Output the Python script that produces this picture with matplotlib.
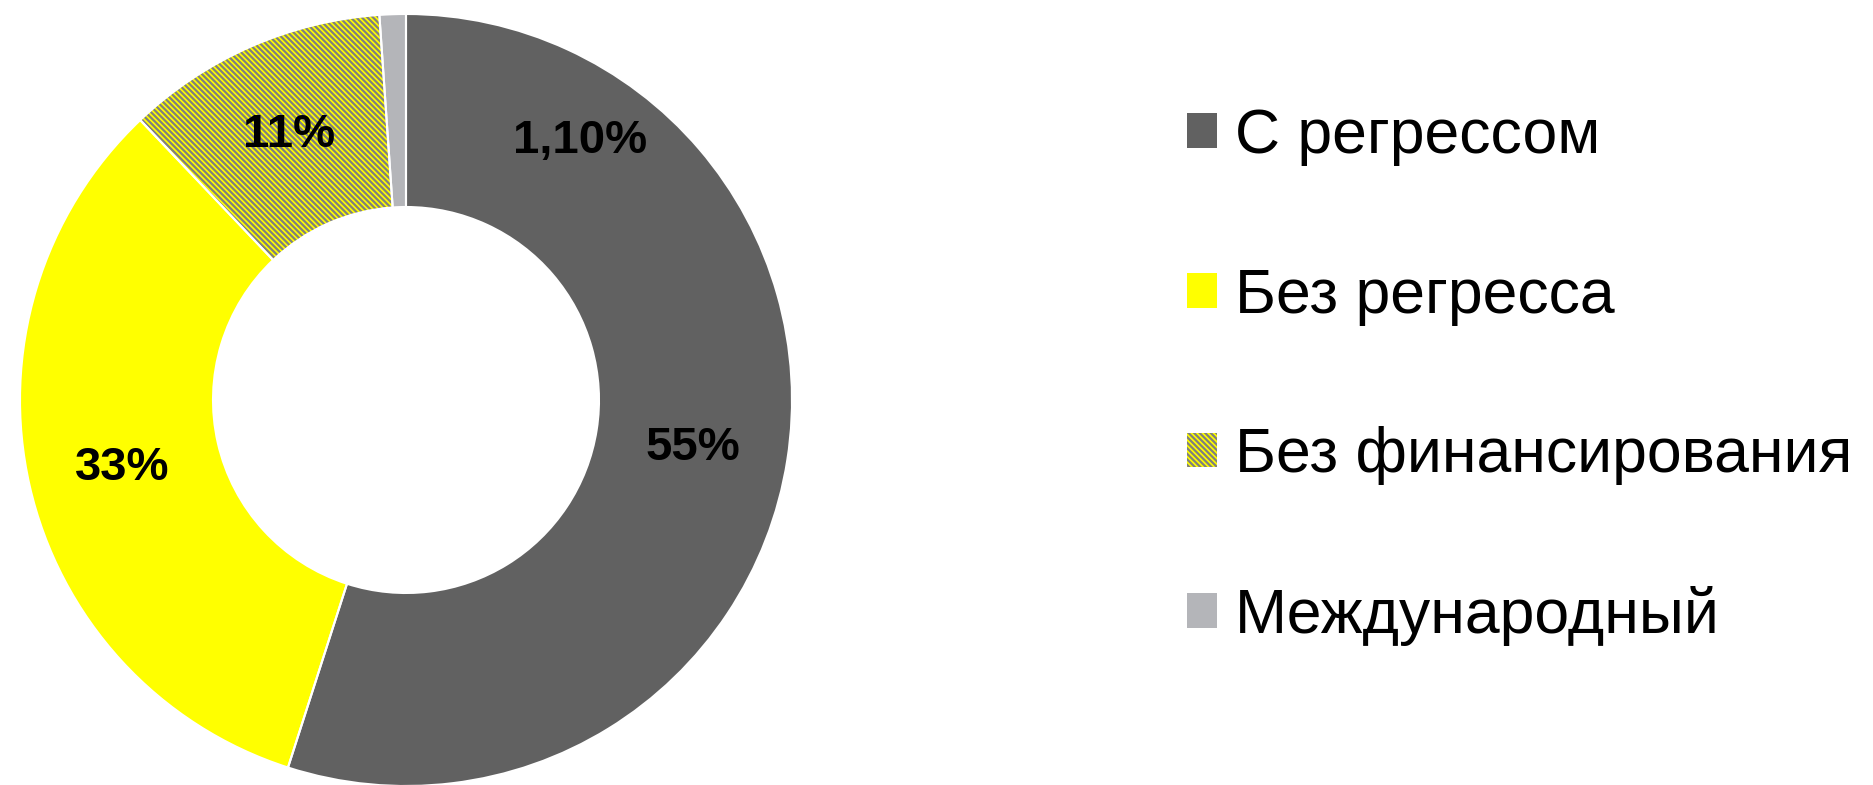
import matplotlib
matplotlib.use('Agg')
import matplotlib.pyplot as plt

# data
categories = ['С регрессом', 'Без регресса', 'Без финансирования', 'Международный']
shares = [55, 33, 11, 1.1]
labels = ['55%', '33%', '11%', '1,10%']
colors = ['#616161', '#ffff00', '#ffff00', '#b4b5b9']
# label spots (in pie radius units)
label_x = [0.744, -0.736, -0.303, 0.451]
label_y = [-0.124, -0.176, 0.687, 0.671]

plt.rcParams['font.family'] = ['Liberation Sans', 'DejaVu Sans']
plt.rcParams['hatch.linewidth'] = 1.6

W, H = 1874, 785
fig = plt.figure(figsize=(W / 100, H / 100), dpi=100)

# pie centre and radius in pixels
cx, cy, r = 406, 400, 386
half = 400
ax = fig.add_axes([(cx - half) / W, (H - cy - half) / H, 2 * half / W, 2 * half / H])
lim = half / r

wedges, _ = ax.pie(shares, colors=colors, startangle=90, counterclock=False,
                   radius=1, wedgeprops=dict(width=0.5, linewidth=0))
wedges[2].set_hatch('\\\\\\\\\\\\')
wedges[2].set_edgecolor('#7f7f7f')
wedges[2].set_linewidth(0)

# white separators on top
ax.pie(shares, colors=['none'] * 4, startangle=90, counterclock=False, radius=1,
       wedgeprops=dict(width=0.5, linewidth=1.5, edgecolor='white'))

for lx, ly, t in zip(label_x, label_y, labels):
    ax.text(lx, ly, t, ha='center', va='center', fontsize=34, fontweight='bold', color='black')

ax.set_xlim(-lim, lim)
ax.set_ylim(-lim, lim)
ax.set_aspect('equal')
ax.axis('off')

fig.legend(wedges, categories, loc='upper left', bbox_to_anchor=(1187 / W, 1 - 107 / H),
           frameon=False, fontsize=45, handlelength=0.48, handleheight=0.48,
           handletextpad=0.29, labelspacing=1.61, borderpad=0, borderaxespad=0)

fig.savefig('out.png', dpi=100)
